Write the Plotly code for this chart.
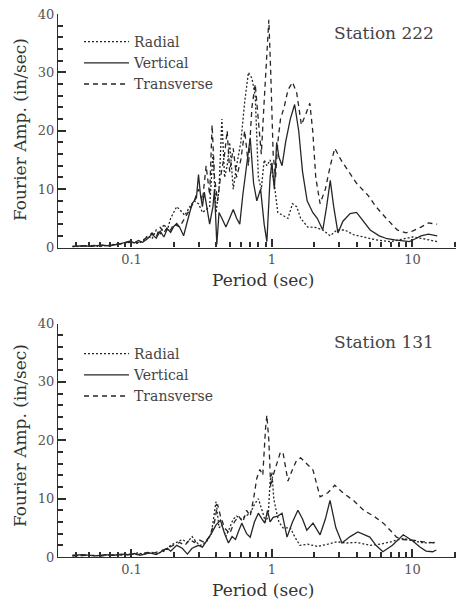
import plotly.graph_objects as go
from plotly.subplots import make_subplots

# ---- Station 222 spectra: period (sec) / Fourier amplitude (in/sec) ----
s222_radial_period = [0.038, 0.05, 0.06, 0.07, 0.08, 0.09, 0.1, 0.11, 0.12, 0.13, 0.14, 0.15,
                      0.16, 0.17, 0.18, 0.19, 0.2, 0.21, 0.22, 0.24, 0.26, 0.28, 0.30, 0.32,
                      0.34, 0.36, 0.38, 0.40, 0.42, 0.44, 0.46, 0.48, 0.50, 0.53, 0.56, 0.60,
                      0.64, 0.68, 0.72, 0.76, 0.80, 0.84, 0.88, 0.92, 0.97, 1.0, 1.05, 1.1,
                      1.2, 1.3, 1.4, 1.5, 1.6, 1.8, 2.0, 2.3, 2.6, 2.9, 3.3, 3.8, 4.5, 5.5,
                      7.0, 8.5, 10.0, 12.0, 15.0]
s222_radial_amp = [0.1, 0.3, 0.2, 0.4, 0.5, 0.7, 0.9, 0.7, 1.0, 2.0, 1.5, 3.0,
                   2.2, 4.0, 3.0, 5.0, 6.0, 7.0, 6.5, 5.5, 7.0, 8.0, 7.5, 6.0,
                   6.5, 7.0, 16.0, 6.0, 10.0, 22.0, 12.0, 14.0, 18.0, 10.0, 14.0, 18.0,
                   25.0, 30.0, 29.0, 26.0, 12.0, 10.0, 15.0, 14.0, 15.0, 13.0, 10.0, 6.0,
                   5.5, 5.0, 7.5, 7.0, 5.0, 3.5, 3.5, 3.0, 2.0, 3.0, 3.0, 2.2, 1.8, 1.3,
                   1.0, 1.5, 1.8, 1.5, 1.0]

s222_vertical_period = [0.038, 0.045, 0.052, 0.06, 0.068, 0.075, 0.083, 0.09, 0.097, 0.105,
                        0.112, 0.12, 0.13, 0.14, 0.15, 0.16, 0.17, 0.18, 0.19, 0.2, 0.21,
                        0.22, 0.235, 0.25, 0.27, 0.29, 0.30, 0.31, 0.32, 0.33, 0.345, 0.36,
                        0.38, 0.39, 0.405, 0.42, 0.44, 0.47, 0.50, 0.53, 0.56, 0.59, 0.62,
                        0.66, 0.70, 0.74, 0.78, 0.83, 0.88, 0.92, 0.97, 1.0, 1.04, 1.08,
                        1.12, 1.18, 1.25, 1.35, 1.45, 1.55, 1.65, 1.78, 1.95, 2.1, 2.3,
                        2.45, 2.6, 2.75, 2.95, 3.2, 3.6, 4.0, 4.5, 5.0, 5.8, 6.6, 7.5, 8.5,
                        9.5, 10.5, 11.5, 13.0, 15.0]
s222_vertical_amp = [0.2, 0.3, 0.2, 0.4, 0.3, 0.5, 0.6, 0.9, 1.1, 0.8,
                     1.2, 0.9, 1.5, 2.3, 1.6, 2.8, 1.8, 3.2, 2.6, 3.6, 4.1,
                     3.5, 2.0, 4.5, 7.5, 8.5, 12.5, 9.0, 7.0, 9.5, 6.5, 4.0,
                     7.0, 10.0, 0.5, 6.0, 5.0, 3.5, 5.0, 6.5, 5.0, 4.0, 9.0,
                     14.0, 18.8, 11.0, 8.0, 10.0, 4.0, 1.0, 12.0, 14.5, 10.0, 18.0,
                     15.5, 14.0, 18.0, 22.0, 24.5, 20.0, 13.0, 8.0, 6.0, 5.0, 3.0,
                     7.0, 11.5, 7.0, 2.5, 4.5, 5.8, 6.0, 4.5, 3.0, 2.0, 1.5, 1.3, 1.2,
                     1.0, 1.5, 2.0, 2.3, 2.0]

s222_transverse_period = [0.038, 0.05, 0.06, 0.07, 0.08, 0.09, 0.1, 0.11, 0.12, 0.13, 0.14,
                          0.15, 0.16, 0.17, 0.18, 0.19, 0.2, 0.22, 0.24, 0.26, 0.28, 0.30,
                          0.32, 0.34, 0.36, 0.375, 0.39, 0.41, 0.43, 0.46, 0.48, 0.50, 0.53,
                          0.56, 0.60, 0.64, 0.68, 0.72, 0.76, 0.80, 0.84, 0.88, 0.92, 0.95,
                          0.98, 1.02, 1.06, 1.10, 1.15, 1.22, 1.30, 1.40, 1.50, 1.62, 1.75,
                          1.86, 1.95, 2.05, 2.2, 2.4, 2.6, 2.8, 3.1, 3.5, 4.0, 4.8, 5.5, 6.5,
                          7.8, 9.0, 10.0, 11.5, 13.0, 15.0]
s222_transverse_amp = [0.2, 0.3, 0.4, 0.3, 0.6, 0.8, 1.0, 0.8, 1.2, 1.8, 2.5,
                       1.8, 3.5, 2.5, 3.5, 3.0, 4.0, 3.5, 5.0, 6.5, 8.0, 10.0,
                       8.0, 14.0, 9.0, 21.0, 12.0, 8.0, 12.0, 16.0, 20.0, 13.0, 17.0,
                       12.0, 15.0, 20.0, 14.0, 24.0, 28.0, 22.0, 16.0, 25.0, 33.0, 39.0,
                       30.0, 16.0, 12.0, 18.0, 22.0, 24.0, 27.0, 28.3, 26.5, 21.0, 23.0,
                       24.7, 20.0, 12.0, 7.5, 10.0, 14.0, 17.0, 15.0, 13.0, 11.0, 9.0, 7.0, 5.0,
                       3.0, 2.5, 2.8, 3.5, 4.2, 4.0]

# ---- Station 131 spectra ----
s131_radial_period = [0.038, 0.05, 0.06, 0.07, 0.08, 0.09, 0.1, 0.11, 0.12, 0.13, 0.14, 0.15,
                      0.17, 0.19, 0.21, 0.23, 0.25, 0.27, 0.29, 0.31, 0.34, 0.37, 0.40,
                      0.42, 0.44, 0.47, 0.50, 0.53, 0.56, 0.60, 0.65, 0.70, 0.75, 0.80,
                      0.85, 0.90, 0.94, 0.97, 1.0, 1.03, 1.07, 1.12, 1.2, 1.35, 1.45, 1.58,
                      1.8, 2.1, 2.5, 2.9, 3.4, 4.0, 5.0, 5.9, 7.0, 8.6, 10.0, 12.0, 14.8]
s131_radial_amp = [0.2, 0.3, 0.2, 0.4, 0.3, 0.5, 0.4, 0.7, 0.5, 0.6, 0.8, 0.5,
                   1.0, 2.0, 2.5, 3.0, 2.5, 3.5, 2.5, 2.0, 2.5, 4.0, 9.5,
                   5.0, 5.5, 3.5, 5.0, 6.5, 7.0, 6.5, 7.0, 7.5, 9.0, 10.0,
                   8.0, 6.0, 7.0, 13.0, 14.5, 10.0, 8.0, 6.0, 5.0, 5.0, 3.5, 2.0,
                   2.2, 1.8, 2.2, 2.6, 2.4, 2.5, 2.0, 2.2, 2.6, 3.2, 2.8, 2.4, 2.5]

s131_vertical_period = [0.038, 0.045, 0.055, 0.065, 0.075, 0.085, 0.095, 0.105, 0.115, 0.125,
                        0.135, 0.15, 0.165, 0.18, 0.19, 0.21, 0.23, 0.25, 0.27, 0.30, 0.32,
                        0.35, 0.37, 0.40, 0.43, 0.46, 0.49, 0.52, 0.55, 0.58, 0.61, 0.66,
                        0.70, 0.75, 0.80, 0.85, 0.89, 0.93, 0.97, 1.02, 1.1, 1.18, 1.28,
                        1.4, 1.53, 1.65, 1.77, 1.96, 2.2, 2.4, 2.59, 2.85, 3.15, 3.6, 4.09,
                        4.97, 5.5, 6.16, 7.2, 8.6, 10.0, 11.3, 12.5, 13.9, 14.8]
s131_vertical_amp = [0.3, 0.4, 0.2, 0.4, 0.3, 0.5, 0.4, 0.6, 0.3, 0.5,
                     0.7, 0.4, 1.0, 1.5, 1.0, 2.0, 1.5, 0.5, 1.5, 2.0, 1.7,
                     3.0, 4.0, 5.5, 6.3, 4.0, 2.4, 3.5, 3.0, 4.5, 5.8, 4.0,
                     3.4, 6.0, 7.5, 6.5, 5.8, 8.0, 6.0, 6.8, 7.0, 7.5, 3.4,
                     6.0, 8.0, 6.5, 4.6, 5.8, 3.8, 6.5, 9.7, 5.0, 2.4, 3.5, 4.3,
                     3.4, 2.0, 0.9, 2.0, 3.8, 2.8, 1.7, 1.0, 0.9, 1.2]

s131_transverse_period = [0.038, 0.05, 0.06, 0.07, 0.08, 0.09, 0.1, 0.11, 0.12, 0.13, 0.14,
                          0.16, 0.18, 0.20, 0.22, 0.24, 0.26, 0.28, 0.30, 0.33, 0.36, 0.39,
                          0.41, 0.43, 0.46, 0.50, 0.54, 0.58, 0.62, 0.66, 0.70, 0.74, 0.78,
                          0.82, 0.86, 0.90, 0.92, 0.95, 0.98, 1.02, 1.08, 1.15, 1.2, 1.3,
                          1.4, 1.5, 1.6, 1.75, 1.96, 2.2, 2.5, 2.8, 3.2, 3.8, 4.5, 5.3, 6.2,
                          7.0, 7.7, 8.5, 10.0, 12.0, 14.8]
s131_transverse_amp = [0.2, 0.3, 0.2, 0.3, 0.4, 0.3, 0.5, 0.4, 0.6, 0.8, 0.6,
                       1.0, 1.5, 2.0, 2.5, 2.0, 3.0, 2.5, 3.0, 2.5, 3.5, 6.0,
                       9.0, 7.0, 5.0, 4.0, 6.0, 7.0, 6.0, 8.0, 7.0, 10.0, 13.5,
                       15.0, 14.0, 22.0, 24.3, 20.0, 12.0, 14.0, 16.0, 18.0, 17.8, 13.0,
                       15.0, 16.6, 17.0, 16.0, 14.9, 10.3, 11.0, 12.3, 11.0, 9.7, 8.0, 7.0, 5.8,
                       4.5, 3.4, 3.0, 2.9, 2.6, 2.4]

series_names = ["Radial", "Vertical", "Transverse"]
station_labels = ["Station 222", "Station 131"]

FONT = "DejaVu Serif"
INK = "#262626"
AXIS = "#2e2e2e"
dash_styles = {"Radial": "2px,2px", "Vertical": "solid", "Transverse": "5px,4px"}

W, H = 460, 601
ML, MR, MT, MB = 58, 4, 14, 44
PW, PH = W - ML - MR, H - MT - MB

def px_x(px):
    # figure pixel column -> paper x (plot-area relative)
    return (px - ML) / PW

def px_y(py):
    # figure pixel row -> paper y (plot-area relative)
    return (H - MB - py) / PH

panels = [
    (s222_radial_period, s222_radial_amp, s222_vertical_period, s222_vertical_amp,
     s222_transverse_period, s222_transverse_amp),
    (s131_radial_period, s131_radial_amp, s131_vertical_period, s131_vertical_amp,
     s131_transverse_period, s131_transverse_amp),
]

fig = make_subplots(rows=2, cols=1, vertical_spacing=76 / PH)
for i, p in enumerate(panels):
    pairs = [(p[0], p[1]), (p[2], p[3]), (p[4], p[5])]
    for name, (xs, ys) in zip(series_names, pairs):
        fig.add_trace(go.Scatter(
            x=xs, y=ys, mode="lines", name=name,
            line=dict(color=INK, width=1.3, dash=dash_styles[name]),
            legend="legend" if i == 0 else "legend2",
        ), row=i + 1, col=1)

# decade labels (0.1, 1, 10) with minor ticks at 2..9 inside each decade
fig.update_xaxes(
    type="log", range=[-1.523, 1.310],
    showline=True, linecolor=AXIS, linewidth=1.3,
    ticks="inside", ticklen=8, tickwidth=2, tickcolor=AXIS,
    dtick=1,
    minor=dict(dtick="D1", ticks="inside", ticklen=5, tickwidth=1.6, tickcolor=AXIS),
    showgrid=False, zeroline=False, automargin=False,
    tickfont=dict(family=FONT, size=13, color="#555"),
)
fig.update_yaxes(
    range=[0, 40],
    showline=True, linecolor=AXIS, linewidth=1.3,
    ticks="inside", ticklen=8, tickwidth=2, tickcolor=AXIS,
    dtick=10,
    minor=dict(dtick=2, ticks="inside", ticklen=5, tickwidth=1.6, tickcolor=AXIS),
    showgrid=False, zeroline=False, automargin=False,
    tickfont=dict(family=FONT, size=13, color="#555"),
)

legend_common = dict(
    font=dict(family=FONT, size=14, color="#444"),
    bgcolor="rgba(0,0,0,0)", borderwidth=0,
    xanchor="left", yanchor="top", itemwidth=45,
    itemclick=False, itemdoubleclick=False,
)

annotations = []
title_font = dict(family=FONT, size=17, color="#333")
ytitle_rows = [130, 436]
xtitle_rows = [280, 590]
station_rows = [33, 342]
for i in range(2):
    annotations.append(dict(text="Fourier Amp. (in/sec)", xref="paper", yref="paper",
                            x=px_x(20), y=px_y(ytitle_rows[i]), textangle=-90,
                            showarrow=False, xanchor="center", yanchor="middle",
                            font=title_font))
    annotations.append(dict(text="Period (sec)", xref="paper", yref="paper",
                            x=px_x(263), y=px_y(xtitle_rows[i]), showarrow=False,
                            xanchor="center", yanchor="middle", font=title_font))
    annotations.append(dict(text=station_labels[i], xref="paper", yref="paper",
                            x=px_x(436), y=px_y(station_rows[i]), showarrow=False,
                            xanchor="right", yanchor="middle",
                            font=dict(family=FONT, size=17, color="#444")))

fig.update_layout(
    width=W, height=H, margin=dict(l=ML, r=MR, t=MT, b=MB),
    paper_bgcolor="white", plot_bgcolor="white",
    legend=dict(x=px_x(79), y=px_y(26), **legend_common),
    legend2=dict(x=px_x(79), y=px_y(338), **legend_common),
    annotations=annotations,
    showlegend=True,
)

fig.write_html("out.html")
